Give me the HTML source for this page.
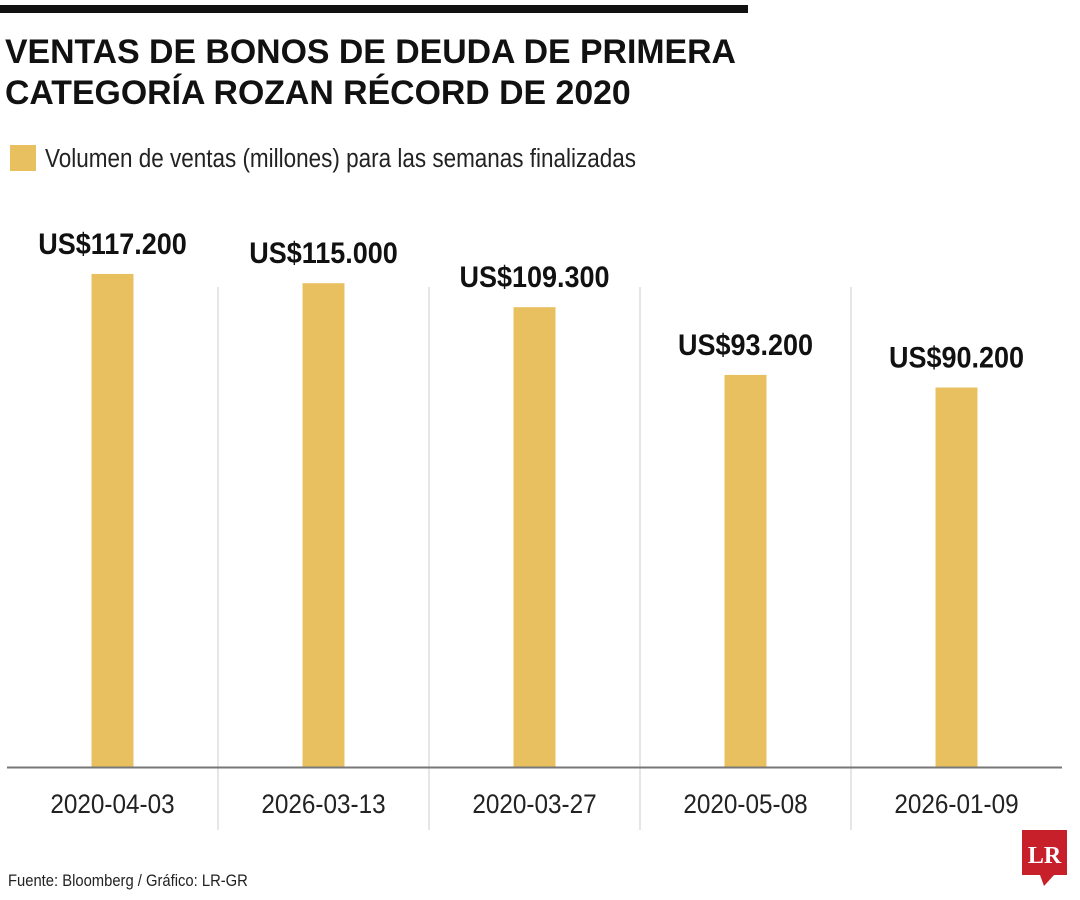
<!DOCTYPE html>
<html><head><meta charset="utf-8"><style>
body{margin:0;background:#fff;width:1080px;height:900px;overflow:hidden}
svg{display:block}
</style></head><body>
<svg width="1080" height="900" font-family="'Liberation Sans', sans-serif">
<rect x="0" y="5" width="748" height="8" fill="#111"/>
<g transform="scale(0.995,1)">
<text x="5" y="63" font-size="34" font-weight="bold" fill="#111">VENTAS DE BONOS DE DEUDA DE PRIMERA</text>
<text x="5" y="104" font-size="34" font-weight="bold" fill="#111">CATEGORÍA ROZAN RÉCORD DE 2020</text>
</g>
<rect x="10" y="145" width="26" height="26" fill="#e9c060"/>
<text x="45" y="167" font-size="26" fill="#222" transform="translate(45,0) scale(0.865,1) translate(-45,0)">Volumen de ventas (millones) para las semanas finalizadas</text>
<g id="plot"></g>
<text x="8" y="886" font-size="17" fill="#222" transform="translate(8,0) scale(0.87,1) translate(-8,0)">Fuente: Bloomberg / Gráfico: LR-GR</text>
<g>
<rect x="1022" y="830" width="45" height="45" fill="#c8202a"/>
<polygon points="1040,875 1054,875 1044,886" fill="#c8202a"/>
<text x="1044.5" y="863" font-size="24" font-weight="bold" font-family="'Liberation Serif', serif" fill="#fff" text-anchor="middle">LR</text>
</g>
</svg>
<script>
const categories=["2020-04-03","2026-03-13","2020-03-27","2020-05-08","2026-01-09"];
const values=[117200,115000,109300,93200,90200];
const valueLabels=["US$117.200","US$115.000","US$109.300","US$93.200","US$90.200"];
const NS="http://www.w3.org/2000/svg";
const g=document.getElementById('plot');
const x0=7,x1=1062,base=767,colW=(x1-x0)/categories.length;
function xc(i){return x0+colW*(i+0.5);}
function y(v){return base-v*0.004207;}
function mk(t,a){const e=document.createElementNS(NS,t);for(const k in a)e.setAttribute(k,a[k]);g.appendChild(e);return e;}
for(let i=1;i<categories.length;i++){
 const l=mk('line',{x1:x0+colW*i,x2:x0+colW*i,y1:287,y2:830,stroke:'#ccc','stroke-width':1});
 
 
}
categories.forEach((c,i)=>{
 const cx=xc(i);
 const b=mk('rect',{x:cx-21,y:y(values[i]),width:42,height:base-y(values[i]),fill:'#e9c060'});
 
 
 const v=mk('text',{x:cx,y:y(values[i])-20,'font-size':30,'font-weight':'bold',fill:'#111','text-anchor':'middle',transform:`translate(${cx},0) scale(0.9,1) translate(${-cx},0)`});
 v.textContent=valueLabels[i];
 
 
 const t=mk('text',{x:cx,y:813,'font-size':27,fill:'#222','text-anchor':'middle',transform:`translate(${cx},0) scale(0.9,1) translate(${-cx},0)`});
 t.textContent=c;
 
 
});
const ax=mk('line',{x1:x0,x2:x1,y1:base+0.5,y2:base+0.5,stroke:'#777','stroke-width':2});


</script>
</body></html>
